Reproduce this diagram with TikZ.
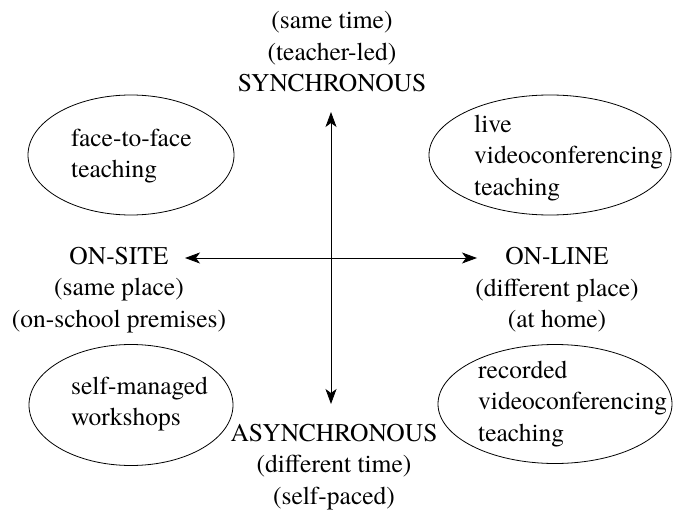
\documentclass[tikz,border=0pt]{standalone}
\usepackage{fontspec}
\setmainfont{texgyretermes}[Extension=.otf, UprightFont=*-regular, BoldFont=*-bold, ItalicFont=*-italic, BoldItalicFont=*-bolditalic]
\usetikzlibrary{shapes.geometric,arrows.meta}
\begin{document}
\begin{tikzpicture}[x=1pt,y=-1pt,
  every node/.style={font=\fontsize{25.5}{31.5}\selectfont, inner sep=0pt},
  label/.style={align=center},
  inner/.style={align=left, anchor=west},
  oval/.style={draw, ellipse, line width=0.8pt, inner sep=0pt},
  axis/.style={line width=0.8pt, {Stealth[length=15pt,width=11pt,inset=4pt]}-{Stealth[length=15pt,width=11pt,inset=4pt]}}
]
\useasboundingbox (0,0) rectangle (674,513);
% axes end points
\coordinate (top) at (331,112);
\coordinate (bot) at (331,404);
\coordinate (lft) at (185,258);
\coordinate (rgt) at (477,258);
\draw[axis] (top) -- (bot);
\draw[axis] (lft) -- (rgt);
% axis labels
\node[label] (sync) at (332,52) {(same time)\\(teacher-led)\\SYNCHRONOUS};
\node[label] (async) at (334,467) {ASYNCHRONOUS\\(different time)\\(self-paced)};
\node[label] (onsite) at (119,290) {ON-SITE\\(same place)\\(on-school premises)};
\node[label] (online) at (557,290) {ON-LINE\\(different place)\\(at home)};
% ellipses
\node[oval, minimum width=206pt, minimum height=120pt] (e1) at (131,155) {};
\node[oval, minimum width=242pt, minimum height=120pt] (e2) at (550,155) {};
\node[oval, minimum width=204pt, minimum height=121pt] (e3) at (131,405) {};
\node[oval, minimum width=234pt, minimum height=119pt] (e4) at (555,404) {};
\node[inner] (t1) at (71,156) {face-to-face\\teaching};
\node[inner] (t2) at (474,158) {live\\videoconferencing\\teaching};
\node[inner] (t3) at (71,404) {self-managed\\workshops};
\node[inner] (t4) at (478,404) {recorded\\videoconferencing\\teaching};
\end{tikzpicture}
\end{document}
